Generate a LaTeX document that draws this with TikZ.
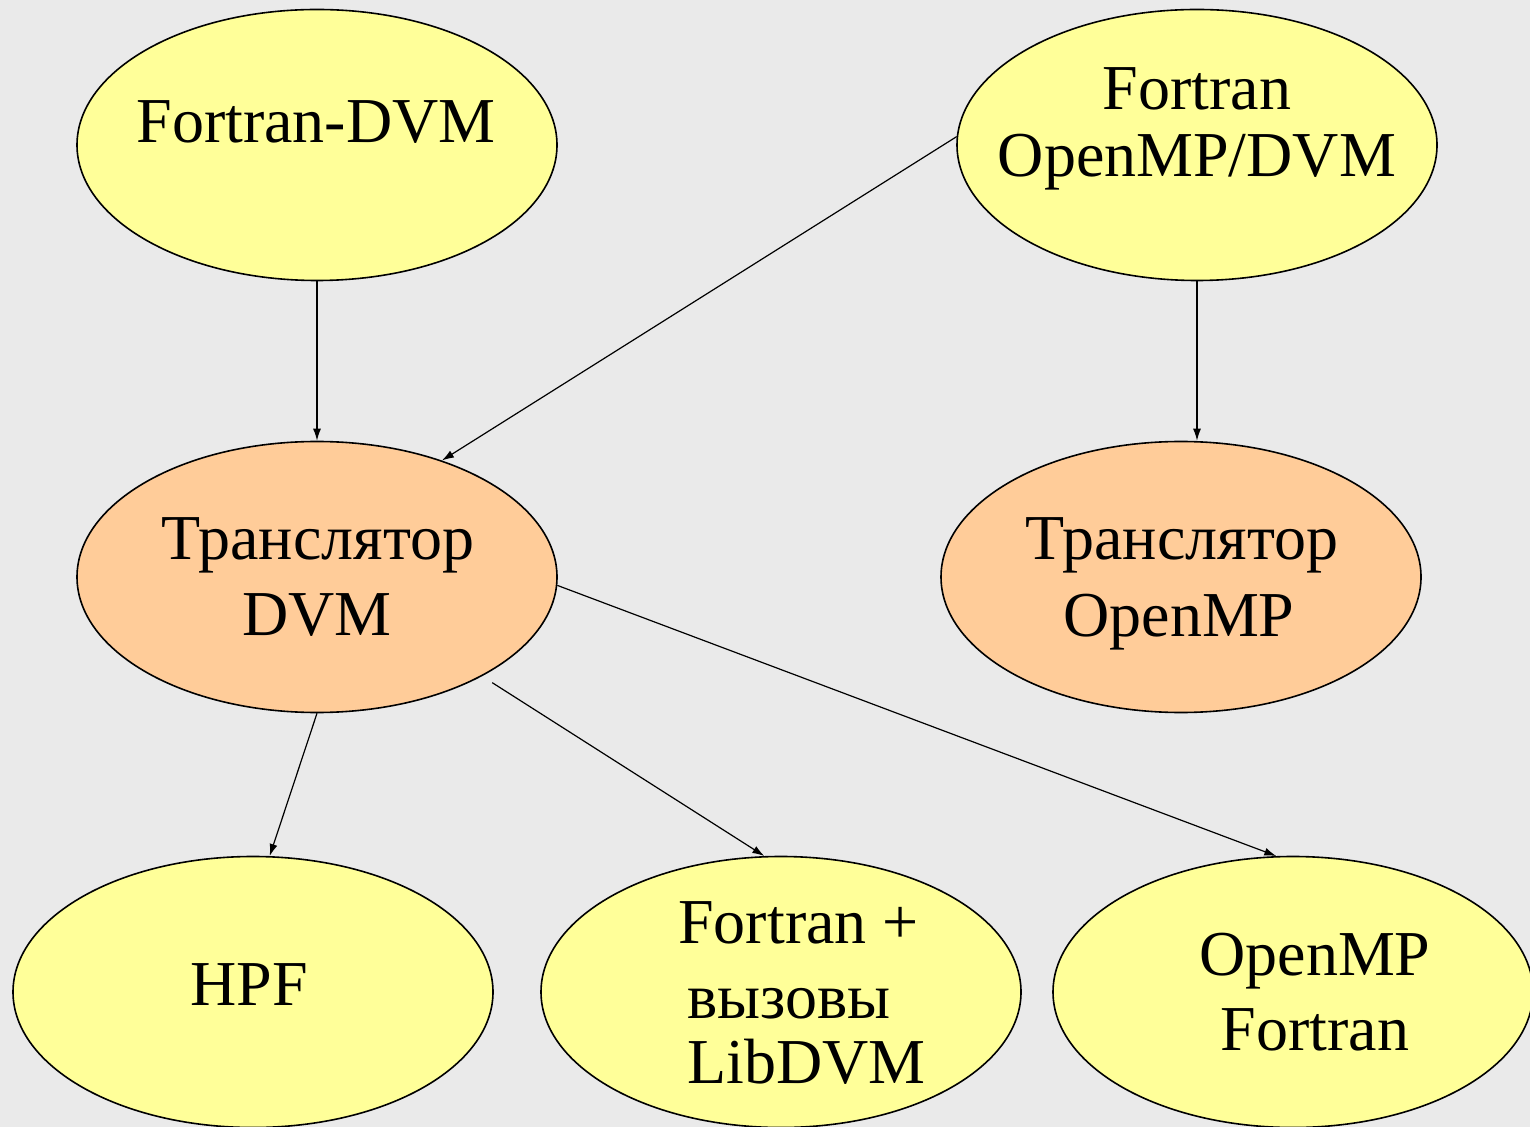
\documentclass[tikz,border=0pt]{standalone}
\usepackage{fontspec}
\setmainfont{Liberation Serif}
\usetikzlibrary{shapes.geometric,arrows.meta}
\definecolor{bg}{HTML}{EAEAEA}
\definecolor{lang}{HTML}{FFFF99}
\definecolor{trans}{HTML}{FFCC99}
\begin{document}
\begin{tikzpicture}[x=0.5pt,y=-0.5pt,
  ell/.style={ellipse,draw,line width=0.8pt,inner sep=0pt,minimum width=240pt,minimum height=135.5pt},
  txt/.style={font=\fontsize{32}{37}\selectfont,inner sep=0pt,anchor=base},
  arr/.style={-{Latex[length=6pt,width=4pt]},line width=0.6pt}]
\clip (0,0) rectangle (1530,1127);
\fill[bg] (0,0) rectangle (1530,1127);
% languages and translators
\node[ell,fill=lang] (fdvm) at (317,145) {};
\node[ell,fill=lang] (ompdvm) at (1197,145) {};
\node[ell,fill=trans] (trdvm) at (317,577) {};
\node[ell,fill=trans] (tromp) at (1181,577) {};
\node[ell,fill=lang] (hpf) at (253,992) {};
\node[ell,fill=lang] (lib) at (781,992) {};
\node[ell,fill=lang] (ompf) at (1293,992) {};
% texts
\node[txt] (t1) at (316,143) {Fortran-DVM};
\node[txt] (t2a) at (1197,110) {Fortran};
\node[txt] (t2b) at (1197,177) {OpenMP/DVM};
\node[txt] (t3a) at (318,560) {Транслятор};
\node[txt] (t3b) at (317,636) {DVM};
\node[txt] (t4a) at (1182,560) {Транслятор};
\node[txt] (t4b) at (1179,637) {OpenMP};
\node[txt] (t5) at (249,1005) {HPF};
\node[txt,anchor=base west] (t6a) at (678,943) {Fortran +};
\node[txt,anchor=base west] (t6b) at (687,1018) {вызовы};
\node[txt,anchor=base west] (t6c) at (687,1083) {LibDVM};
\node[txt] (t7a) at (1315,975) {OpenMP};
\node[txt] (t7b) at (1315,1050) {Fortran};
% arrows
\draw[arr] (fdvm.south) -- (trdvm.north);
\draw[arr] (ompdvm.178) -- (trdvm.43);
\draw[arr] (ompdvm.south) -- (ompdvm.south |- tromp.north);
\draw[arr] (trdvm.south) -- (hpf.83);
\draw[arr,shorten <=6pt] (trdvm.-31) -- (lib.97);
\draw[arr] (trdvm.-2) -- (ompf.97);
\end{tikzpicture}
\end{document}
